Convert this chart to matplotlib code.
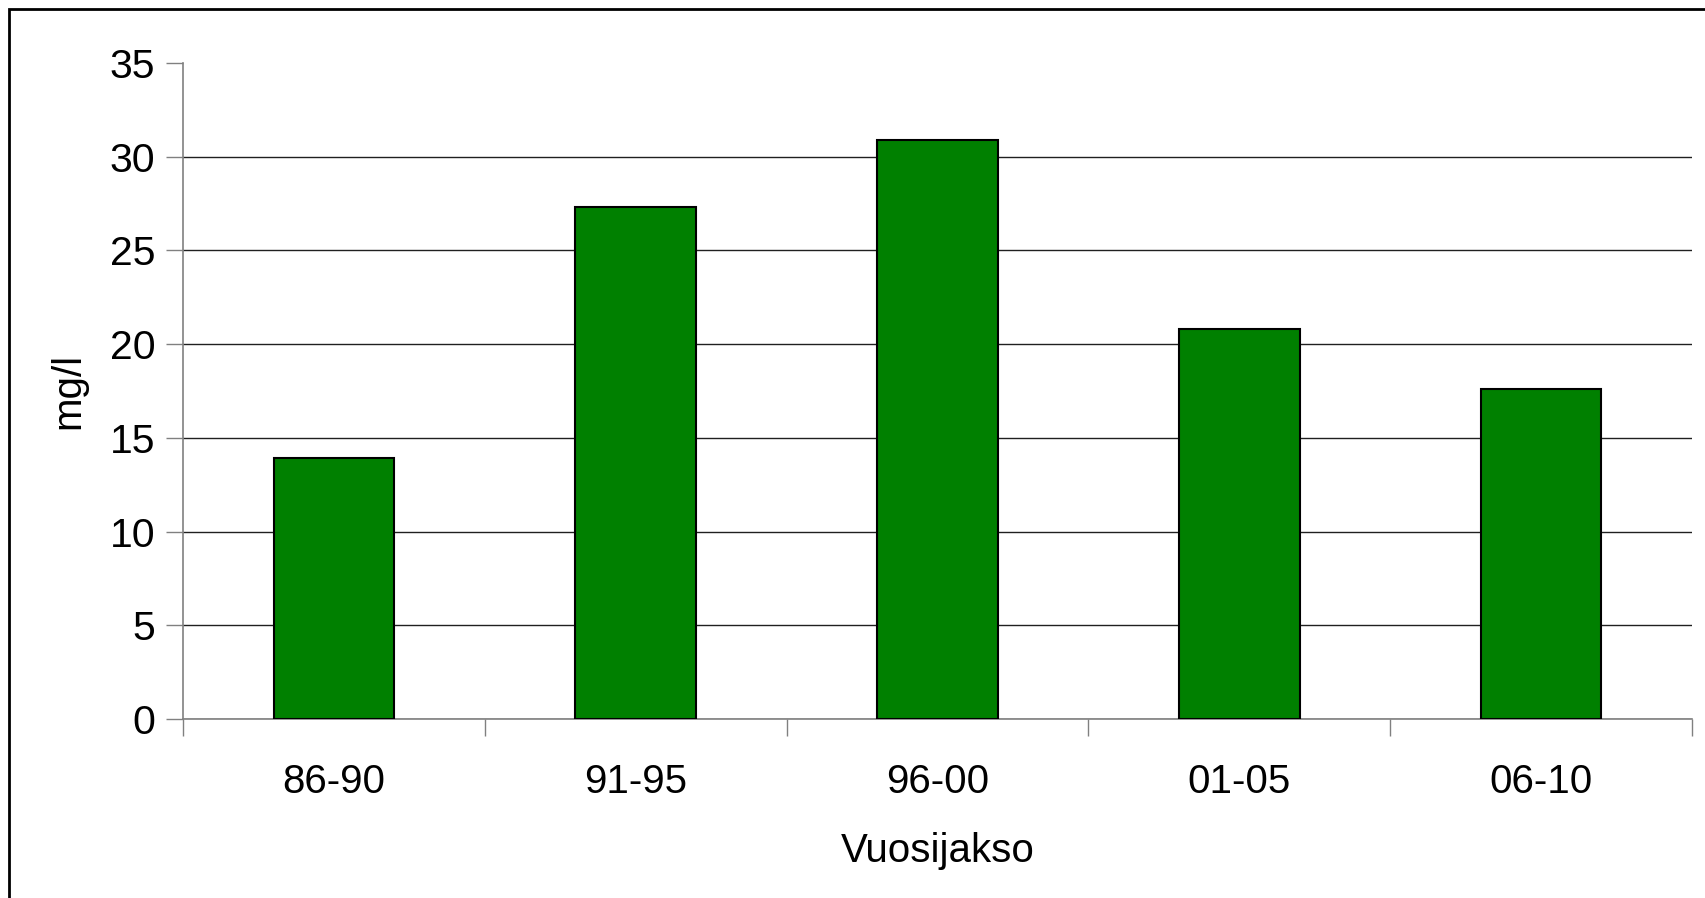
import matplotlib.pyplot as plt
import matplotlib.patches as mpatches

# --- data ---
jaksot = ['86-90', '91-95', '96-00', '01-05', '06-10']
arvot = [13.9, 27.3, 30.9, 20.8, 17.6]
y_ticks = [0, 5, 10, 15, 20, 25, 30, 35]

plt.rcParams['font.family'] = ['Liberation Sans', 'DejaVu Sans']

W, H = 1705, 898
fig = plt.figure(figsize=(W / 100, H / 100), dpi=100)
ax = fig.add_axes([183 / W, 1 - 719 / H, (1692 - 183) / W, (719 - 63) / H])

x = list(range(len(jaksot)))
ax.bar(x, arvot, width=0.4, color='#008000', edgecolor='black', linewidth=1.5, zorder=3)

ax.set_xlim(-0.5, len(jaksot) - 0.5)
ax.set_ylim(0, 35)
ax.set_yticks(y_ticks)
ax.set_xticks(x)
ax.set_xticklabels(jaksot)
ax.set_xticks([i - 0.5 for i in range(len(jaksot) + 1)], minor=True)

ax.tick_params(axis='x', which='major', length=0, pad=32, labelsize=29)
ax.tick_params(axis='x', which='minor', length=12, width=1, color='#808080', direction='out')
ax.tick_params(axis='y', length=12, width=1, color='#808080', direction='out', pad=8, labelsize=29.5)

# vaakaviivat
ax.yaxis.grid(True, color='#202020', linewidth=1, zorder=0)
ax.get_ygridlines()[-1].set_visible(False)
ax.set_axisbelow(True)

for s in ['top', 'right']:
    ax.spines[s].set_visible(False)
ax.spines['left'].set_color('#808080')
ax.spines['bottom'].set_color('#808080')
ax.spines['left'].set_linewidth(1.2)
ax.spines['bottom'].set_linewidth(1.2)

ax.set_xlabel('Vuosijakso', fontsize=29, labelpad=22)
ax.set_ylabel('mg/l', fontsize=29, labelpad=16)

# kehys
fig.patches.append(mpatches.Rectangle((9 / W, -0.1), 1.2, 1 - 9 / H + 0.1,
                                      transform=fig.transFigure, fill=False,
                                      edgecolor='black', linewidth=2))

plt.savefig('out.png', dpi=100)
